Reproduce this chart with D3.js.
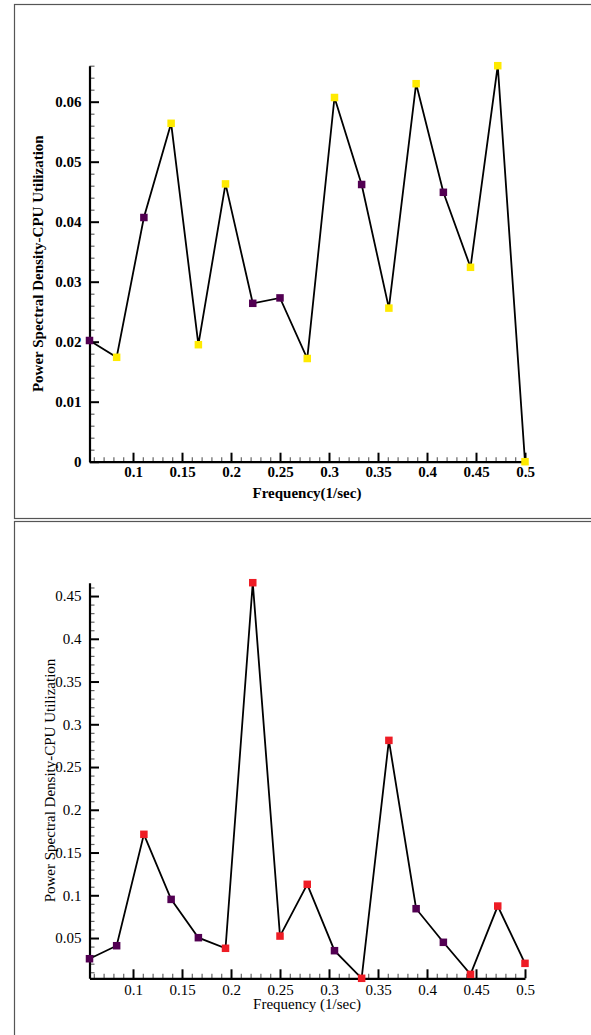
<!DOCTYPE html>
<html>
<head>
<meta charset="utf-8">
<script src="https://cdn.jsdelivr.net/npm/d3@7"></script>
<style>
  html, body { margin: 0; padding: 0; background: #fff; }
  svg { display: block; }
</style>
</head>
<body>
<svg id="chart" width="591" height="1035"></svg>
<script>
// ---- data ----
const freq = [0.0556, 0.0833, 0.1111, 0.1389, 0.1667, 0.1944, 0.2222, 0.25, 0.2778,
              0.3056, 0.3333, 0.3611, 0.3889, 0.4167, 0.4444, 0.4722, 0.5];
const psd1 = [0.0202, 0.0174, 0.0407, 0.0564, 0.0195, 0.0463, 0.0264, 0.0273, 0.0172,
              0.0607, 0.0462, 0.0256, 0.0630, 0.0449, 0.0324, 0.0660, 0.0];
const class1 = ["p","y","p","y","y","y","p","p","y","y","p","y","y","p","y","y","y"];
const psd2 = [0.0258, 0.0410, 0.1713, 0.0952, 0.0504, 0.0380, 0.4656, 0.0523, 0.1128,
              0.0352, 0.0029, 0.2812, 0.0843, 0.0450, 0.0075, 0.0874, 0.0204];
const class2 = ["p","p","r","p","p","r","r","r","r","p","r","r","p","p","r","r","r"];

const xMajor = [0.1, 0.15, 0.2, 0.25, 0.3, 0.35, 0.4, 0.45, 0.5];
const xMinor = [0.06,0.07,0.08,0.09,0.11,0.12,0.13,0.14,0.16,0.17,0.18,0.19,0.21,0.22,0.23,0.24,
                0.26,0.27,0.28,0.29,0.31,0.32,0.33,0.34,0.36,0.37,0.38,0.39,0.41,0.42,0.43,0.44,
                0.46,0.47,0.48,0.49];
const y1Major = [0, 0.01, 0.02, 0.03, 0.04, 0.05, 0.06];
const y1Minor = [0.002,0.004,0.006,0.008,0.012,0.014,0.016,0.018,0.022,0.024,0.026,0.028,
                 0.032,0.034,0.036,0.038,0.042,0.044,0.046,0.048,0.052,0.054,0.056,0.058,
                 0.062,0.064,0.066];
const y2Major = [0.05, 0.1, 0.15, 0.2, 0.25, 0.3, 0.35, 0.4, 0.45];
const y2Minor = [0.01,0.02,0.03,0.04,0.06,0.07,0.08,0.09,0.11,0.12,0.13,0.14,0.16,0.17,0.18,0.19,
                 0.21,0.22,0.23,0.24,0.26,0.27,0.28,0.29,0.31,0.32,0.33,0.34,0.36,0.37,0.38,0.39,
                 0.41,0.42,0.43,0.44,0.46];

const colors = { p: "#520052", y: "#ffea00", r: "#ee1c25" };

const svg = d3.select("#chart");

// frames
svg.append("rect").attr("x", 14.5).attr("y", 4.5).attr("width", 600).attr("height", 514)
  .attr("fill", "none").attr("stroke", "#555").attr("stroke-width", 1.2);
svg.append("rect").attr("x", 14.5).attr("y", 521.5).attr("width", 600).attr("height", 600)
  .attr("fill", "none").attr("stroke", "#555").attr("stroke-width", 1.2);

function panel(opts) {
  const x = d3.scaleLinear().domain([0.0556, 0.5]).range([89.5, 525]);
  const y = d3.scaleLinear().domain(opts.yDomain).range(opts.yRange);
  const g = svg.append("g");
  const fontW = opts.bold ? "bold" : "normal";
  const fam = "'Liberation Serif', 'Times New Roman', serif";

  // minor ticks
  const gxm = g.append("g").attr("transform", `translate(0,${opts.yRange[0]})`)
    .call(d3.axisBottom(x).tickValues(xMinor).tickSize(-4.5).tickSizeOuter(0).tickFormat(""));
  const gym = g.append("g").attr("transform", `translate(89.5,0)`)
    .call(d3.axisLeft(y).tickValues(opts.yMinor).tickSize(-5).tickSizeOuter(0).tickFormat(""));
  [gxm, gym].forEach(a => {
    a.select(".domain").remove();
    a.selectAll(".tick line").attr("stroke", "#666").attr("stroke-width", 1.2);
  });

  // major ticks with labels
  const gx = g.append("g").attr("transform", `translate(0,${opts.yRange[0]})`)
    .call(d3.axisBottom(x).tickValues(xMajor).tickSize(-9).tickSizeOuter(0)
      .tickPadding(opts.xPad).tickFormat(d => String(d)));
  const gy = g.append("g").attr("transform", `translate(89.5,0)`)
    .call(d3.axisLeft(y).tickValues(opts.yMajor).tickSize(-9.5).tickSizeOuter(0)
      .tickPadding(8).tickFormat(d => String(d)));
  [gx, gy].forEach(a => {
    a.select(".domain").attr("stroke", "#000").attr("stroke-width", 2.2);
    a.selectAll(".tick line").attr("stroke", "#000").attr("stroke-width", 2);
    a.selectAll(".tick text").attr("fill", "#000").attr("font-family", fam)
      .attr("font-size", 15).attr("font-weight", fontW);
  });

  // line
  const pts = freq.map((f, i) => ({ f, v: opts.values[i], c: opts.classes[i] }));
  g.append("path").datum(pts)
    .attr("d", d3.line().x(d => x(d.f)).y(d => y(d.v)))
    .attr("fill", "none").attr("stroke", "#000").attr("stroke-width", 1.8)
    .attr("stroke-linejoin", "miter");

  // markers
  const s = 7.5;
  g.selectAll("rect.m").data(pts).enter().append("rect").attr("class", "m")
    .attr("x", d => x(d.f) - s / 2).attr("y", d => y(d.v) - s / 2)
    .attr("width", s).attr("height", s).attr("fill", d => colors[d.c]);

  // titles
  g.append("text").attr("x", 307).attr("y", opts.xTitleY).attr("text-anchor", "middle")
    .attr("font-family", fam).attr("font-size", 15).attr("font-weight", fontW)
    .text(opts.xTitle);
  const cy = (opts.yRange[0] + opts.yRange[1]) / 2;
  g.append("text").attr("transform", `translate(${opts.yTitleX},${cy}) rotate(-90)`)
    .attr("text-anchor", "middle")
    .attr("font-family", fam).attr("font-size", 15).attr("font-weight", fontW)
    .text("Power Spectral Density-CPU Utilization");
}

panel({
  yDomain: [0, 0.066], yRange: [461.7, 65.7], yMajor: y1Major, yMinor: y1Minor,
  values: psd1, classes: class1, bold: true, xPad: 5,
  xTitle: "Frequency(1/sec)", xTitleY: 498, yTitleX: 43
});
panel({
  yDomain: [0.0029, 0.4656], yRange: [978.3, 582.7], yMajor: y2Major, yMinor: y2Minor,
  values: psd2, classes: class2, bold: false, xPad: 6,
  xTitle: "Frequency (1/sec)", xTitleY: 1009, yTitleX: 55
});
</script>
</body>
</html>
